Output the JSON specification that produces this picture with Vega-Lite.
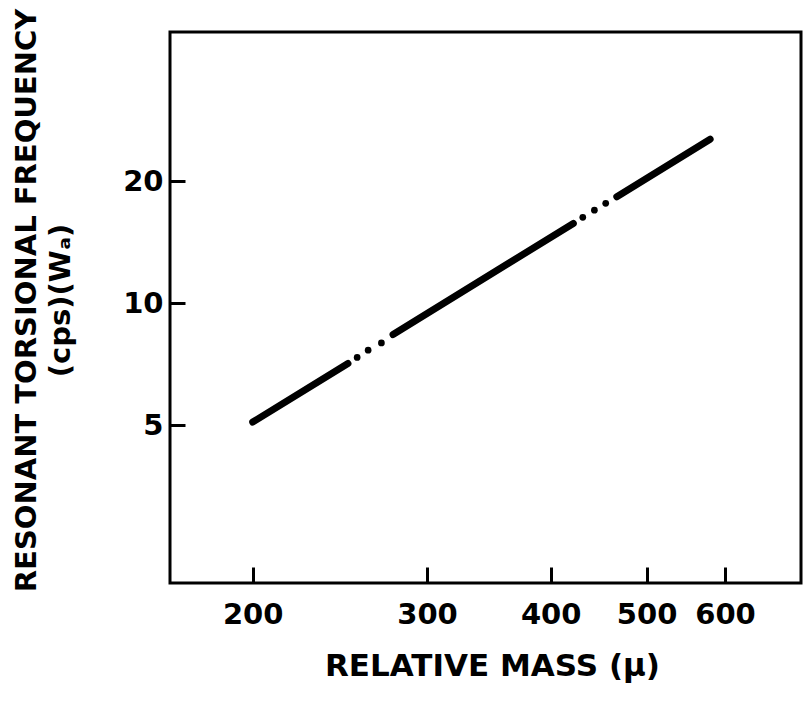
{
  "$schema": "https://vega.github.io/schema/vega-lite/v6.json",
  "width": 631,
  "height": 551,
  "autosize": {"type": "none"},
  "padding": {"left": 170, "top": 32, "right": 4, "bottom": 125},
  "background": "white",
  "config": {
    "view": {"stroke": "black", "strokeWidth": 3},
    "font": "DejaVu Sans"
  },
  "datasets": {
    "curve": [
      {"segment": "a", "mu": 200, "freq": 5.09},
      {"segment": "a", "mu": 249.6, "freq": 7.10},
      {"segment": "b", "mu": 277.2, "freq": 8.37},
      {"segment": "b", "mu": 421.6, "freq": 15.74},
      {"segment": "c", "mu": 466.5, "freq": 18.31},
      {"segment": "c", "mu": 579.6, "freq": 25.4}
    ],
    "dots": [
      {"mu": 255, "freq": 7.35},
      {"mu": 261.6, "freq": 7.66},
      {"mu": 269.8, "freq": 7.98},
      {"mu": 431, "freq": 16.29},
      {"mu": 442.8, "freq": 16.97},
      {"mu": 454.6, "freq": 17.64}
    ]
  },
  "encoding": {
    "x": {
      "field": "mu",
      "type": "quantitative",
      "scale": {"type": "log", "domain": [165, 716], "nice": false, "zero": false},
      "axis": {
        "values": [200, 300, 400, 500, 600],
        "format": "d",
        "grid": false,
        "domain": false,
        "tickSize": -16,
        "tickWidth": 3,
        "tickColor": "black",
        "labelFont": "DejaVu Sans",
        "labelFontWeight": "bold",
        "labelFontSize": 29,
        "labelColor": "black",
        "labelPadding": 33,
        "labelFlush": false,
        "labelOverlap": false,
        "title": "RELATIVE MASS (μ)",
        "titleFont": "DejaVu Sans",
        "titleFontSize": 31,
        "titleFontWeight": "bold",
        "titleColor": "black",
        "titleX": 322,
        "titleY": 92,
        "titleAlign": "center",
        "titleBaseline": "alphabetic"
      }
    },
    "y": {
      "field": "freq",
      "type": "quantitative",
      "scale": {"type": "log", "domain": [2.04, 46.7], "nice": false, "zero": false},
      "axis": {
        "values": [5, 10, 20],
        "format": "d",
        "grid": false,
        "domain": false,
        "tickSize": -15,
        "tickWidth": 3,
        "tickColor": "black",
        "labelFont": "DejaVu Sans",
        "labelFontWeight": "bold",
        "labelFontSize": 29,
        "labelColor": "black",
        "labelPadding": 22,
        "labelOverlap": false,
        "title": ["RESONANT TORSIONAL FREQUENCY", "(cps)(Wₐ)"],
        "titleFont": "DejaVu Sans",
        "titleFontSize": 29,
        "titleFontWeight": "bold",
        "titleColor": "black",
        "titleLineHeight": 34,
        "titleAngle": -90,
        "titleX": -135,
        "titleY": 268,
        "titleAlign": "center",
        "titleBaseline": "alphabetic"
      }
    }
  },
  "layer": [
    {
      "data": {"name": "curve"},
      "mark": {"type": "line", "color": "black", "strokeWidth": 7, "strokeCap": "round"},
      "encoding": {"detail": {"field": "segment"}}
    },
    {
      "data": {"name": "dots"},
      "mark": {"type": "circle", "color": "black", "size": 45, "opacity": 1}
    }
  ]
}
